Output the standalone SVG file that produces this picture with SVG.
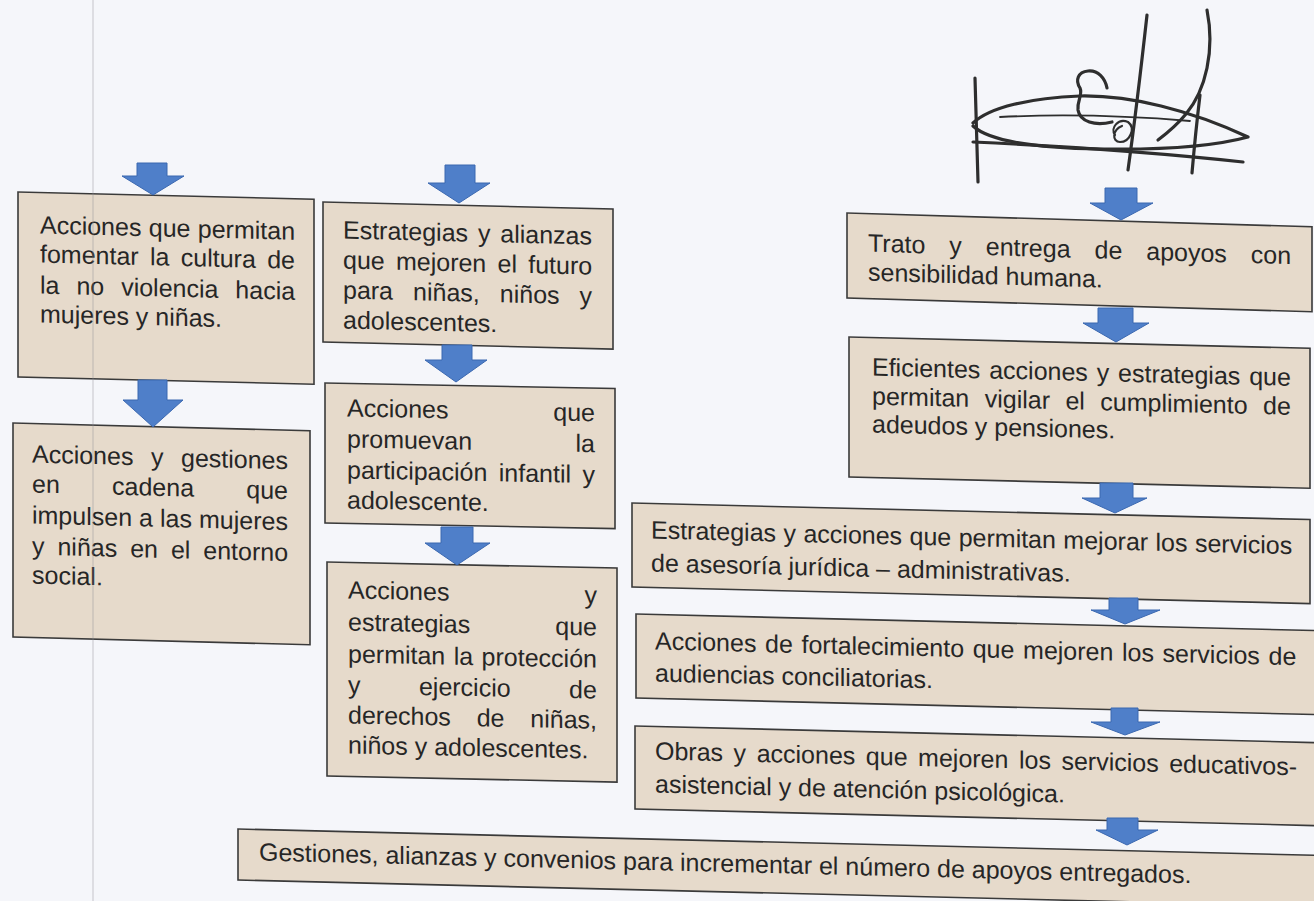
<svg xmlns="http://www.w3.org/2000/svg" width="1314" height="901" viewBox="0 0 1314 901">
<style>
.box{fill:#E6DACB;stroke:#3a3a3a;stroke-width:1.6}
.t{font-family:"Liberation Sans",Arial,sans-serif;font-size:25px;fill:#262626}
.arr{fill:#4F7FC9;stroke:#3B68B0;stroke-width:1}
.sig{fill:none;stroke:#2e2e2e;stroke-width:3.2;stroke-linecap:round;stroke-linejoin:round}
</style>
<rect width="1314" height="901" fill="#F5F6FA"/>
<g id="signature">
<path class="sig" d="M975,78 C976,110 977,150 978,182"/>
<path class="sig" d="M973,123 C990,107 1030,98 1080,96 C1130,95 1190,110 1248,137 C1215,146 1160,150 1100,149 C1040,148 990,142 973,126"/>
<path class="sig" d="M973,142 C1060,146 1150,152 1243,162"/>
<path class="sig" style="stroke-width:1.8" d="M1000,117 C1060,114 1130,116 1190,121"/>
<path class="sig" d="M1147,15 C1142,60 1135,120 1128,170"/>
<path class="sig" d="M1207,10 C1215,50 1206,90 1186,114 C1176,126 1166,134 1158,140"/>
<path class="sig" d="M1200,95 C1197,120 1194,150 1192,173"/>
<path class="sig" d="M1107,88 C1105,78 1098,70 1088,71 C1078,72 1075,80 1080,88 C1083,95 1077,100 1078,110 C1080,122 1095,126 1112,122"/>
<path class="sig" style="stroke-width:2.2" d="M1115,135 C1110,128 1118,118 1128,122 C1136,128 1130,142 1120,142 C1112,142 1112,130 1122,126"/>
</g>
<g id="n1" transform="translate(18,192) skewY(1.4)">
<rect class="box" width="296" height="185"/>
<text class="t" x="22" y="41" word-spacing="0.4">Acciones que permitan</text>
<text class="t" x="22" y="70" word-spacing="4.4">fomentar la cultura de</text>
<text class="t" x="22" y="101" word-spacing="10">la no violencia hacia</text>
<text class="t" x="22" y="130">mujeres y niñas.</text>
</g>
<g id="n2" transform="translate(13,423) skewY(1.5)">
<rect class="box" width="297" height="214"/>
<text class="t" x="19" y="39" word-spacing="10.6">Acciones y gestiones</text>
<text class="t" x="19" y="69" word-spacing="45.3">en cadena que</text>
<text class="t" x="19" y="100" word-spacing="0.1">impulsen a las mujeres</text>
<text class="t" x="19" y="131" word-spacing="6">y niñas en el entorno</text>
<text class="t" x="19" y="160">social.</text>
</g>
<g id="n3" transform="translate(323,202) skewY(1.4)">
<rect class="box" width="290" height="140"/>
<text class="t" x="20" y="36" word-spacing="2.9">Estrategias y alianzas</text>
<text class="t" x="20" y="66" word-spacing="4.3">que mejoren el futuro</text>
<text class="t" x="20" y="96" word-spacing="13.1">para niñas, niños y</text>
<text class="t" x="20" y="126">adolescentes.</text>
</g>
<g id="n4" transform="translate(325,383) skewY(1.1)">
<rect class="box" width="290" height="140"/>
<text class="t" x="22" y="33">Acciones</text><text class="t" x="270" y="33" text-anchor="end">que</text>
<text class="t" x="22" y="64">promuevan</text><text class="t" x="270" y="64" text-anchor="end">la</text>
<text class="t" x="22" y="95" word-spacing="4.5">participación infantil y</text>
<text class="t" x="22" y="125">adolescente.</text>
</g>
<g id="n5" transform="translate(327,562) skewY(1.2)">
<rect class="box" width="290" height="214"/>
<text class="t" x="21" y="36">Acciones</text><text class="t" x="270" y="36" text-anchor="end">y</text>
<text class="t" x="21" y="68">estrategias</text><text class="t" x="270" y="68" text-anchor="end">que</text>
<text class="t" x="21" y="100" word-spacing="1.5">permitan la protección</text>
<text class="t" x="21" y="131" word-spacing="51.5">y ejercicio de</text>
<text class="t" x="21" y="161" word-spacing="18.9">derechos de niñas,</text>
<text class="t" x="21" y="191">niños y adolescentes.</text>
</g>
<g id="n6" transform="translate(847,213) skewY(1.7)">
<rect class="box" width="465" height="85"/>
<text class="t" x="21" y="38" word-spacing="17">Trato y entrega de apoyos con</text>
<text class="t" x="21" y="67">sensibilidad humana.</text>
</g>
<g id="n7" transform="translate(849,337) skewY(1.4)">
<rect class="box" width="461" height="140"/>
<text class="t" x="23" y="38" word-spacing="1.9">Eficientes acciones y estrategias que</text>
<text class="t" x="23" y="67" word-spacing="8.5">permitan vigilar el cumplimiento de</text>
<text class="t" x="23" y="95">adeudos y pensiones.</text>
</g>
<g id="n8" transform="translate(632,503) skewY(1.4)">
<rect class="box" width="678" height="84"/>
<text class="t" x="19" y="35" word-spacing="0.5">Estrategias y acciones que permitan mejorar los servicios</text>
<text class="t" x="19" y="68">de asesoría jurídica – administrativas.</text>
</g>
<g id="n9" transform="translate(636,614) skewY(1.4)">
<rect class="box" width="690" height="84"/>
<text class="t" x="19" y="35" word-spacing="1.7">Acciones de fortalecimiento que mejoren los servicios de</text>
<text class="t" x="19" y="67">audiencias conciliatorias.</text>
</g>
<g id="n10" transform="translate(635,726) skewY(1.4)">
<rect class="box" width="690" height="83"/>
<text class="t" x="20" y="33" word-spacing="3.6">Obras y acciones que mejoren los servicios educativos-</text>
<text class="t" x="20" y="66">asistencial y de atención psicológica.</text>
</g>
<g id="n11" transform="translate(238,829) skewY(1.4)">
<rect class="box" width="1090" height="51"/>
<text class="t" x="21" y="31">Gestiones, alianzas y convenios para incrementar el número de apoyos entregados.</text>
</g>
<g id="connectors">
<path class="arr" d="M137,163 L167,163 L167,176 L184,176 L153,195 L122,176 L137,176 Z"/>
<path class="arr" d="M138,380 L167,380 L167,400 L183,400 L153,427 L123,400 L138,400 Z"/>
<path class="arr" d="M445,165 L475,165 L475,183 L490,183 L459,203 L428,183 L445,183 Z"/>
<path class="arr" d="M442,345 L472,345 L472,360 L487,360 L456,382 L425,360 L442,360 Z"/>
<path class="arr" d="M441,527 L473,527 L473,543 L490,543 L457,565 L425,543 L441,543 Z"/>
<path class="arr" d="M1105,188 L1137,188 L1137,203 L1153,203 L1121,220 L1090,203 L1105,203 Z"/>
<path class="arr" d="M1098,308 L1133,308 L1133,323 L1149,323 L1116,342 L1083,323 L1098,323 Z"/>
<path class="arr" d="M1100,483 L1133,483 L1133,498 L1147,498 L1115,513 L1082,498 L1100,498 Z"/>
<path class="arr" d="M1109,598 L1138,598 L1138,610 L1160,610 L1125,624 L1091,610 L1109,610 Z"/>
<path class="arr" d="M1111,708 L1138,708 L1138,722 L1160,722 L1125,735 L1091,722 L1111,722 Z"/>
<path class="arr" d="M1107,818 L1138,818 L1138,830 L1158,830 L1127,845 L1096,830 L1107,830 Z"/>
</g>
<line x1="93" y1="0" x2="93" y2="901" stroke="#8c8c94" stroke-width="1.5" opacity="0.3"/>
</svg>
